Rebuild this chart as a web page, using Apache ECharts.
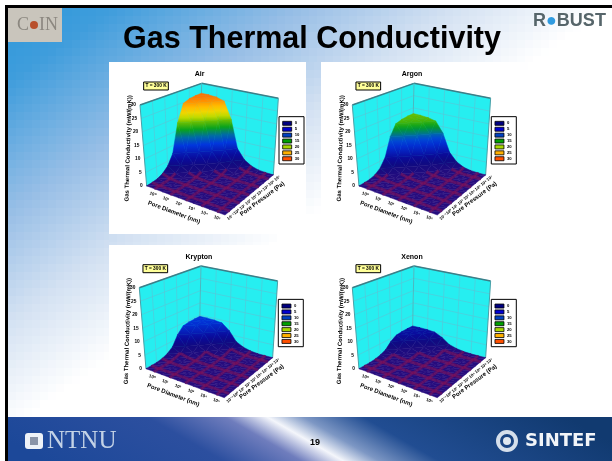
<!DOCTYPE html>
<html>
<head>
<meta charset="utf-8">
<style>html,body{margin:0;padding:0;background:#fff}#main{width:612px;height:461px}</style>
<script src="https://cdn.jsdelivr.net/npm/echarts@6/dist/echarts.min.js"></script>
</head>
<body>
<div id="main"></div>
<script>
var gasNames = ['Air', 'Argon', 'Krypton', 'Xenon'];
var diameterTicks = ['10⁰', '10¹', '10²', '10³', '10⁴', '10⁵'];
var pressureTicks = ['10⁻¹', '10⁰', '10¹', '10²', '10³', '10⁴', '10⁵', '10⁶', '10⁷'];
var conductivityTicks = [0, 5, 10, 15, 20, 25, 30];
var legendColors = ['#000080', '#0000d0', '#0040c0', '#00a000', '#a8d800', '#ffb000', '#ff5000'];

// rows: pore diameter (left corner to front corner), columns: pressure (front side to back side)
var airValues = [
    [0.05, 0.2, 0.5, 1.4, 3.2, 7, 18, 24.6, 25.6, 25.9, 26],
    [0.03, 0.05, 0.2, 0.5, 1.4, 3.2, 7, 18, 24.6, 25.6, 25.9],
    [0.02, 0.03, 0.05, 0.2, 0.5, 1.4, 3.2, 7, 18, 24.6, 25.6],
    [0, 0.02, 0.03, 0.05, 0.2, 0.5, 1.4, 3.2, 7, 18, 24.6],
    [0, 0, 0.02, 0.03, 0.05, 0.2, 0.5, 1.4, 3.2, 7, 18],
    [0, 0, 0, 0.02, 0.03, 0.05, 0.2, 0.5, 1.4, 3.2, 7],
    [0, 0, 0, 0, 0.02, 0.03, 0.05, 0.2, 0.5, 1.4, 3.2],
    [0, 0, 0, 0, 0, 0.02, 0.03, 0.05, 0.2, 0.5, 1.4],
    [0, 0, 0, 0, 0, 0, 0.02, 0.03, 0.05, 0.2, 0.5],
    [0, 0, 0, 0, 0, 0, 0, 0.02, 0.03, 0.05, 0.2],
    [0, 0, 0, 0, 0, 0, 0, 0, 0.02, 0.03, 0.05]
];
var argonValues = [
    [0.03, 0.1, 0.3, 0.9, 2.4, 5.5, 12.5, 16.6, 17.3, 17.6, 17.7],
    [0.02, 0.03, 0.1, 0.3, 0.9, 2.4, 5.5, 12.5, 16.6, 17.3, 17.6],
    [0, 0.02, 0.03, 0.1, 0.3, 0.9, 2.4, 5.5, 12.5, 16.6, 17.3],
    [0, 0, 0.02, 0.03, 0.1, 0.3, 0.9, 2.4, 5.5, 12.5, 16.6],
    [0, 0, 0, 0.02, 0.03, 0.1, 0.3, 0.9, 2.4, 5.5, 12.5],
    [0, 0, 0, 0, 0.02, 0.03, 0.1, 0.3, 0.9, 2.4, 5.5],
    [0, 0, 0, 0, 0, 0.02, 0.03, 0.1, 0.3, 0.9, 2.4],
    [0, 0, 0, 0, 0, 0, 0.02, 0.03, 0.1, 0.3, 0.9],
    [0, 0, 0, 0, 0, 0, 0, 0.02, 0.03, 0.1, 0.3],
    [0, 0, 0, 0, 0, 0, 0, 0, 0.02, 0.03, 0.1],
    [0, 0, 0, 0, 0, 0, 0, 0, 0, 0.02, 0.03]
];
var kryptonValues = [
    [0.02, 0.05, 0.15, 0.5, 1.3, 2.8, 6.5, 8.9, 9.3, 9.45, 9.5],
    [0, 0.02, 0.05, 0.15, 0.5, 1.3, 2.8, 6.5, 8.9, 9.3, 9.45],
    [0, 0, 0.02, 0.05, 0.15, 0.5, 1.3, 2.8, 6.5, 8.9, 9.3],
    [0, 0, 0, 0.02, 0.05, 0.15, 0.5, 1.3, 2.8, 6.5, 8.9],
    [0, 0, 0, 0, 0.02, 0.05, 0.15, 0.5, 1.3, 2.8, 6.5],
    [0, 0, 0, 0, 0, 0.02, 0.05, 0.15, 0.5, 1.3, 2.8],
    [0, 0, 0, 0, 0, 0, 0.02, 0.05, 0.15, 0.5, 1.3],
    [0, 0, 0, 0, 0, 0, 0, 0.02, 0.05, 0.15, 0.5],
    [0, 0, 0, 0, 0, 0, 0, 0, 0.02, 0.05, 0.15],
    [0, 0, 0, 0, 0, 0, 0, 0, 0, 0.02, 0.05],
    [0, 0, 0, 0, 0, 0, 0, 0, 0, 0, 0.02]
];
var xenonValues = [
    [0.01, 0.03, 0.1, 0.3, 0.8, 1.7, 3.8, 5.2, 5.5, 5.6, 5.6],
    [0, 0.01, 0.03, 0.1, 0.3, 0.8, 1.7, 3.8, 5.2, 5.5, 5.6],
    [0, 0, 0.01, 0.03, 0.1, 0.3, 0.8, 1.7, 3.8, 5.2, 5.5],
    [0, 0, 0, 0.01, 0.03, 0.1, 0.3, 0.8, 1.7, 3.8, 5.2],
    [0, 0, 0, 0, 0.01, 0.03, 0.1, 0.3, 0.8, 1.7, 3.8],
    [0, 0, 0, 0, 0, 0.01, 0.03, 0.1, 0.3, 0.8, 1.7],
    [0, 0, 0, 0, 0, 0, 0.01, 0.03, 0.1, 0.3, 0.8],
    [0, 0, 0, 0, 0, 0, 0, 0.01, 0.03, 0.1, 0.3],
    [0, 0, 0, 0, 0, 0, 0, 0, 0.01, 0.03, 0.1],
    [0, 0, 0, 0, 0, 0, 0, 0, 0, 0.01, 0.03],
    [0, 0, 0, 0, 0, 0, 0, 0, 0, 0, 0.01]
];
var gasValues = [airValues, argonValues, kryptonValues, xenonValues];

// colour ramp of the surface: height, colour
var rampLevels = [0, 3, 5, 10, 12, 15, 18, 20, 22, 25, 27, 30];
var rampColors = ['#260c7e', '#100a80', '#0a0a9a', '#0038e0', '#0060c0', '#00a020', '#70c000', '#d0e000', '#ffd000', '#ff9000', '#ff5000', '#ff3000'];

// colour fade of the slide, blue in the top left corner
var slideLevels = [0, 0.2, 0.5, 0.75, 1];
var slideColors = ['#2a98da', '#3f9ddc', '#97bee6', '#d3e1f2', '#ffffff'];

// layout of the panels, a panel is 205x175 px and its axes count in thirds of a pixel
var panelOrigins = [[105, 60], [317.3, 60], [104.3, 242.7], [317.3, 242.7]];
var whiteBoxes = [[109, 62, 197, 172], [321, 62, 199, 172], [109, 245, 197, 172], [321, 245, 199, 172]];
// parts of the slide around the white boxes
var slideStrips = [[8, 8, 101, 410], [109, 8, 503, 54], [306, 62, 15, 356], [109, 234, 197, 11], [321, 234, 199, 11], [520, 62, 92, 356]];
var floorL = [125, 378], floorB = [285, 291], floorR = [505, 345], floorF = [360, 465];
var topL = [105, 135], topB = [290, 70], topR = [520, 115], topF = [358, 205];

var FONT = '"Liberation Sans", "DejaVu Sans", Arial, sans-serif';
var N = 10;

function project(i, j, z) {
    var u = i / N, v = j / N, w = z / 30, out = [];
    for (var k = 0; k < 2; k++) {
        var a = (1 - u) * ((1 - v) * floorL[k] + v * floorB[k]) + u * ((1 - v) * floorF[k] + v * floorR[k]);
        var b = (1 - u) * ((1 - v) * topL[k] + v * topB[k]) + u * ((1 - v) * topF[k] + v * topR[k]);
        out.push(a + (b - a) * w);
    }
    return out;
}

function parseHex(c) {
    return [parseInt(c.substr(1, 2), 16), parseInt(c.substr(3, 2), 16), parseInt(c.substr(5, 2), 16)];
}

function mixColor(levels, colors, z) {
    for (var k = 1; k < levels.length; k++) {
        if (z <= levels[k]) {
            var t = (z - levels[k - 1]) / (levels[k] - levels[k - 1]);
            var a = parseHex(colors[k - 1]), b = parseHex(colors[k]);
            return 'rgb(' + Math.round(a[0] + (b[0] - a[0]) * t) + ',' + Math.round(a[1] + (b[1] - a[1]) * t) + ',' + Math.round(a[2] + (b[2] - a[2]) * t) + ')';
        }
    }
    return colors[colors.length - 1];
}

function rampColor(z) {
    return mixColor(rampLevels, rampColors, z);
}

function label(x, y, text, size, rotation, align) {
    return {
        type: 'text', x: x, y: y, rotation: rotation || 0,
        style: { text: text, fill: '#000', font: 'bold ' + size + 'px ' + FONT, align: align || 'center', verticalAlign: 'middle' }
    };
}

function renderFrame(gas) {
    return function (params, api) {
        var c = function (p) { return api.coord(p); };
        var kids = [];
        var wall = function (a, b, ta, tb) {
            kids.push({ type: 'polygon', shape: { points: [c(a), c(b), c(tb), c(ta)] }, style: { fill: '#26eef0' } });
        };
        wall(floorL, floorB, topL, topB);
        wall(floorB, floorR, topB, topR);
        var line = function (p, q, color, width) {
            kids.push({ type: 'line', shape: { x1: c(p)[0], y1: c(p)[1], x2: c(q)[0], y2: c(q)[1] }, style: { stroke: color, lineWidth: width } });
        };
        // wall grid, one line per tick of the height axis and per cell of the floor
        conductivityTicks.forEach(function (t) {
            line(project(0, 0, t), project(0, N, t), '#55c8d8', 0.7);
            line(project(0, N, t), project(N, N, t), '#55c8d8', 0.7);
        });
        for (var n = 2; n < N; n += 2) {
            line(project(0, n, 0), project(0, n, 30), '#55c8d8', 0.7);
            line(project(n, N, 0), project(n, N, 30), '#55c8d8', 0.7);
        }
        // frame of the walls
        line(topL, topB, '#3b7f88', 1.5);
        line(topB, topR, '#3b7f88', 1.5);
        line(floorL, topL, '#4aa0a8', 1);
        line(floorR, topR, '#4aa0a8', 1);
        line(floorB, topB, '#4ab8c0', 1);

        conductivityTicks.forEach(function (t) {
            var p = c(project(0, 0, t));
            kids.push(label(p[0] - 4, p[1], String(t), 4.8, 0, 'right'));
        });

        var tl = c([116, 66]), br = c([190, 90]);
        kids.push({ type: 'rect', shape: { x: tl[0], y: tl[1], width: br[0] - tl[0], height: br[1] - tl[1] }, style: { fill: '#ffff99', stroke: '#000', lineWidth: 1 } });
        kids.push(label((tl[0] + br[0]) / 2, (tl[1] + br[1]) / 2, 'T = 300 K', 4.8));

        var namePos = c([284, 43]);
        kids.push(label(namePos[0], namePos[1], gasNames[gas], 7));

        var yName = c([70, 265]);
        kids.push(label(yName[0], yName[1], 'Gas Thermal Conductivity (mW/(mK))', 6, Math.PI / 2 - 0.03));
        var xName = c([207, 457]);
        kids.push(label(xName[0], xName[1], 'Pore Diameter (nm)', 6, -0.36));
        var zName = c([472, 417]);
        kids.push(label(zName[0], zName[1], 'Pore Pressure (Pa)', 6, 0.64));

        // legend
        var lt = c([522, 170]), lb = c([597, 312]);
        kids.push({ type: 'rect', shape: { x: lt[0], y: lt[1], width: lb[0] - lt[0], height: lb[1] - lt[1] }, style: { fill: '#fff', stroke: '#000', lineWidth: 1 } });
        legendColors.forEach(function (col, k) {
            var p = c([533, 190 + k * 17.7]);
            kids.push({ type: 'rect', shape: { x: p[0], y: p[1] - 2, width: 9, height: 4 }, style: { fill: col, stroke: '#000', lineWidth: 0.8 } });
            kids.push(label(p[0] + 12, p[1], String(conductivityTicks[k]), 4.2, 0, 'left'));
        });
        return { type: 'group', children: kids };
    };
}

function renderTicks(params, api) {
    var kids = [];
    diameterTicks.forEach(function (t, k) {
        var p = api.coord(project((0.08 + k * 0.164) * N, 0, 0));
        kids.push(label(p[0], p[1] + 6, t, 4.4, -0.36));
    });
    pressureTicks.forEach(function (t, k) {
        var p = api.coord(project(N, (0.03 + k * 0.12) * N, 0));
        kids.push(label(p[0] + 4.5, p[1] + 3, t, 4.2, 0.64));
    });
    return { type: 'group', children: kids };
}

function triangle(a, b, c, zTop, zBot) {
    var y0 = Math.min(a[1], b[1], c[1]);
    var y1 = Math.max(a[1], b[1], c[1]);
    if (y1 - y0 < 1) y1 = y0 + 1;
    var zMid = (zTop + zBot) / 2;
    var paint = new echarts.graphic.LinearGradient(0, y0, 0, y1, [
        { offset: 0, color: rampColor(zTop) },
        { offset: 0.25, color: rampColor((zTop + zMid) / 2) },
        { offset: 0.5, color: rampColor(zMid) },
        { offset: 0.75, color: rampColor((zMid + zBot) / 2) },
        { offset: 1, color: rampColor(zBot) }
    ], true);
    return { type: 'polygon', shape: { points: [a, b, c] }, style: { fill: paint, stroke: paint, lineWidth: 0.5 } };
}

// every cell is cut along its left-right diagonal, the back half goes first
function renderCell(values) {
    return function (params, api) {
        var i = api.value(0), j = api.value(1);
        var zBack = values[i][j + 1], zLeft = values[i][j], zRight = values[i + 1][j + 1], zFront = values[i + 1][j];
        var back = api.coord(project(i, j + 1, zBack));
        var left = api.coord(project(i, j, zLeft));
        var right = api.coord(project(i + 1, j + 1, zRight));
        var front = api.coord(project(i + 1, j, zFront));
        var zMid = (zLeft + zRight) / 2;
        return {
            type: 'group',
            children: [triangle(back, left, right, zBack, zMid), triangle(left, right, front, zMid, zFront)]
        };
    };
}

// red stripes of the mesh, only where the surface still lies on the floor
function renderMesh(values) {
    return function (params, api) {
        var n = api.value(0), dir = api.value(1), kids = [];
        for (var m = 0; m < N; m++) {
            var a = dir ? [m, n] : [n, m], b = dir ? [m + 1, n] : [n, m + 1];
            var z0 = values[a[0]][a[1]], z1 = values[b[0]][b[1]];
            if (Math.max(z0, z1) > 1.5) continue;
            var p = api.coord(project(a[0], a[1], z0)), q = api.coord(project(b[0], b[1], z1));
            kids.push({ type: 'line', shape: { x1: p[0], y1: p[1], x2: q[0], y2: q[1] }, style: { stroke: 'rgba(140,15,80,0.5)', lineWidth: 3 } });
        }
        return { type: 'group', children: kids };
    };
}

var grids = [], xAxes = [], yAxes = [], series = [];
panelOrigins.forEach(function (o, g) {
    grids.push({ left: o[0], top: o[1], width: 205, height: 175 });
    xAxes.push({ type: 'value', gridIndex: g, min: 0, max: 615, show: false });
    yAxes.push({ type: 'value', gridIndex: g, min: 0, max: 525, inverse: true, show: false });

    var base = { type: 'custom', coordinateSystem: 'cartesian2d', xAxisIndex: g, yAxisIndex: g, silent: true, animation: false, clip: false };
    series.push(Object.assign({}, base, { renderItem: renderFrame(g), data: [[0, 0]] }));

    var cells = [];
    for (var i = 0; i < N; i++) {
        for (var j = N - 1; j >= 0; j--) cells.push([i, j]);
    }
    series.push(Object.assign({}, base, { renderItem: renderCell(gasValues[g]), data: cells }));

    var stripes = [];
    [1, 3, 5, 7, 9].forEach(function (n) { stripes.push([n, 0]); stripes.push([n, 1]); });
    series.push(Object.assign({}, base, { renderItem: renderMesh(gasValues[g]), data: stripes }));
    series.push(Object.assign({}, base, { renderItem: renderTicks, data: [[0, 0]] }));
});

var decorations = [];
whiteBoxes.forEach(function (b) {
    decorations.push({ type: 'rect', z: 0, shape: { x: b[0], y: b[1], width: b[2], height: b[3] }, style: { fill: '#fff' } });
});
// the fade of the slide as small plain tiles
slideStrips.forEach(function (b) {
    for (var x = b[0]; x < b[0] + b[2]; x += 8) {
        for (var y = b[1]; y < b[1] + b[3]; y += 8) {
            var w = Math.min(8, b[0] + b[2] - x), h = Math.min(8, b[1] + b[3] - y);
            var t = ((x + w / 2) * 205 + (y + h / 2) * 292) / 127289;
            decorations.push({ type: 'rect', z: 50, silent: true, shape: { x: x, y: y, width: w, height: h }, style: { fill: mixColor(slideLevels, slideColors, t) } });
        }
    }
});
var slideParts = [
    { type: 'rect', shape: { x: 5, y: 5, width: 607, height: 3 }, style: { fill: '#000' } },
    { type: 'rect', shape: { x: 5, y: 5, width: 3, height: 456 }, style: { fill: '#000' } },
    { type: 'rect', shape: { x: 8, y: 417, width: 604, height: 44 }, style: {
        fill: new echarts.graphic.LinearGradient(232, 570, 382, 310, [
            { offset: 0, color: '#1c4899' },
            { offset: 0.3, color: '#2c4f9f' },
            { offset: 0.43, color: '#6f7dbd' },
            { offset: 0.5, color: '#f4f6fb' },
            { offset: 0.56, color: '#7d97c4' },
            { offset: 0.66, color: '#214d92' },
            { offset: 1, color: '#113a70' }
        ], true) } },
    // logos
    { type: 'rect', shape: { x: 8, y: 8, width: 54, height: 34 }, style: { fill: '#c9c5bc' } },
    { type: 'text', x: 29, y: 25, style: { text: 'C', fill: '#8c8880', font: '18px "Liberation Serif"', align: 'right', verticalAlign: 'middle' } },
    { type: 'circle', shape: { cx: 34, cy: 25, r: 4 }, style: { fill: '#b8502c' } },
    { type: 'text', x: 39, y: 25, style: { text: 'IN', fill: '#8c8880', font: '18px "Liberation Serif"', align: 'left', verticalAlign: 'middle' } },
    { type: 'text', x: 533, y: 21, style: { rich: { a: { fill: '#56656a', font: 'bold 18px ' + FONT }, b: { fill: '#2f9be0', font: 'bold 18px ' + FONT } }, text: '{a|R}{b|●}{a|BUST}', verticalAlign: 'middle' } },
    { type: 'rect', shape: { x: 25, y: 433, width: 18, height: 16, r: 3 }, style: { fill: '#eef2f8' } },
    { type: 'rect', shape: { x: 30, y: 437, width: 8, height: 8 }, style: { fill: '#8a94a8' } },
    { type: 'text', x: 47, y: 441, style: { text: 'NTNU', fill: '#c3d2e6', font: '25px "Liberation Serif"', align: 'left', verticalAlign: 'middle' } },
    { type: 'circle', shape: { cx: 507, cy: 441, r: 9 }, style: { fill: 'none', stroke: '#d5dfeb', lineWidth: 4 } },
    { type: 'circle', shape: { cx: 507, cy: 441, r: 4 }, style: { fill: '#dfe7f0' } },
    { type: 'text', x: 525, y: 441, style: { text: 'SINTEF', fill: '#f2f5f9', font: 'bold 18px "DejaVu Sans"', align: 'left', verticalAlign: 'middle' } },
    { type: 'text', x: 315, y: 443, style: { text: '19', fill: '#000', font: 'bold 9px ' + FONT, align: 'center', verticalAlign: 'middle' } }
];
slideParts.forEach(function (part) {
    part.z = 60;
    decorations.push(part);
});

var myChart = echarts.init(document.getElementById('main'), null, { renderer: 'canvas' });
myChart.setOption({
    animation: false,
    backgroundColor: '#fff',
    title: {
        text: 'Gas Thermal Conductivity',
        z: 70,
        left: 307, top: 35, textAlign: 'center', textVerticalAlign: 'middle',
        textStyle: { fontFamily: FONT, fontWeight: 'bold', fontSize: 30.5, color: '#000' }
    },
    graphic: { elements: decorations },
    grid: grids,
    xAxis: xAxes,
    yAxis: yAxes,
    series: series
});
</script>
</body>
</html>
